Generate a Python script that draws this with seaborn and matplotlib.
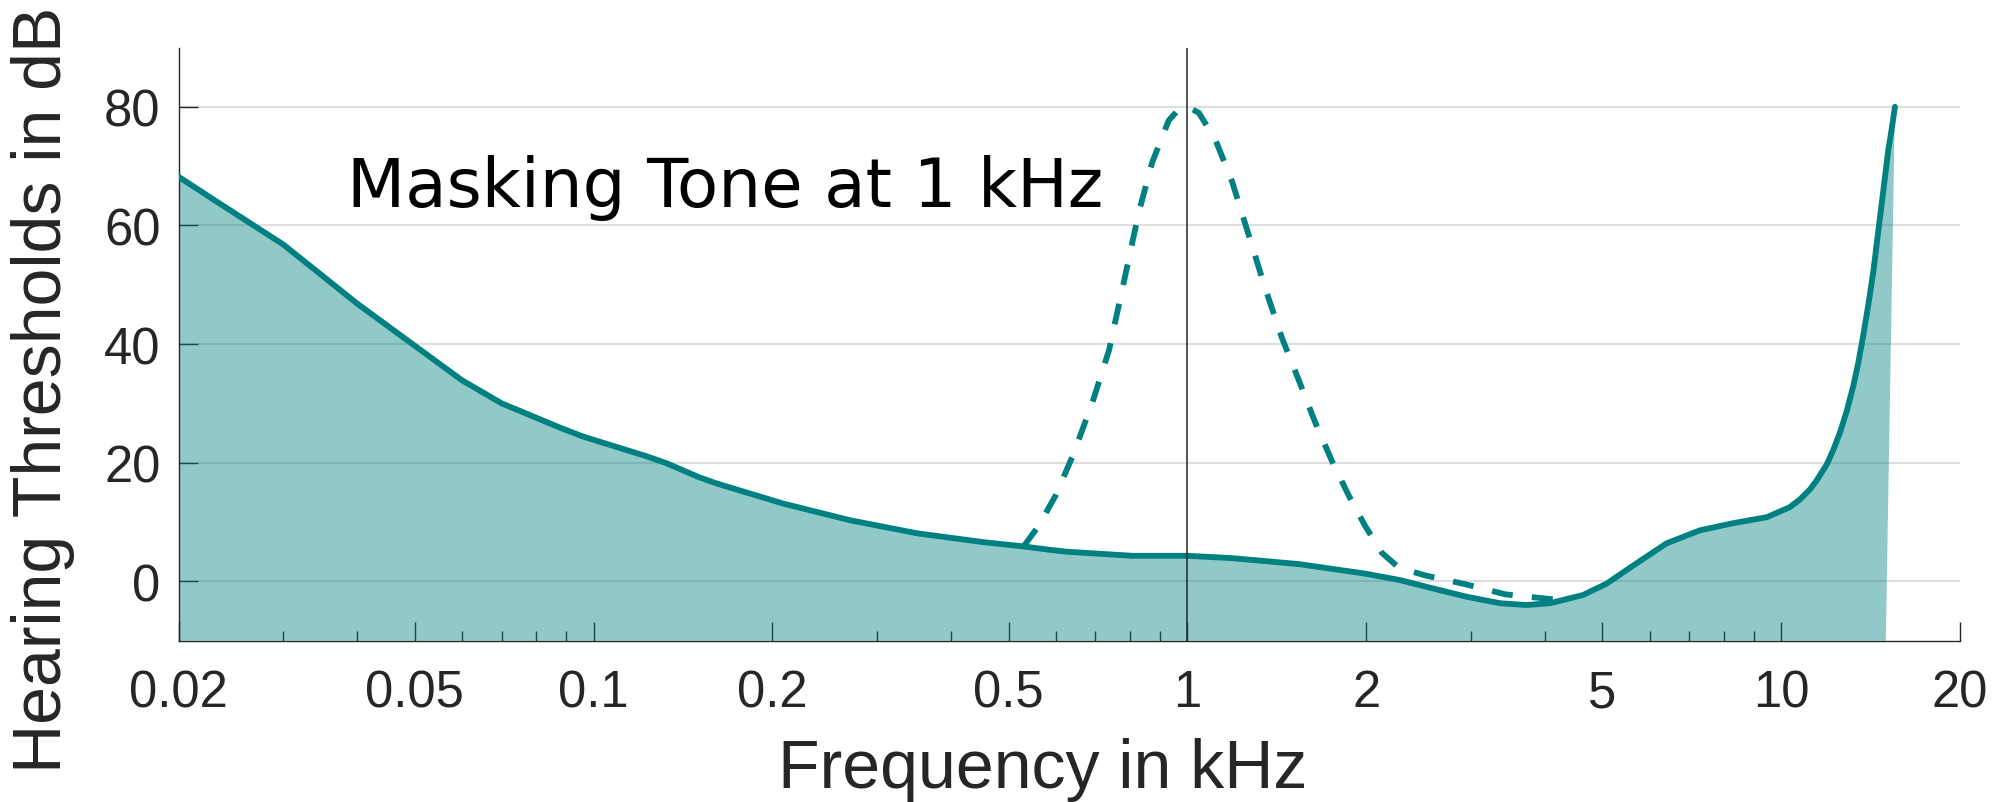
import matplotlib
matplotlib.use("Agg")
import matplotlib.pyplot as plt
import seaborn as sns
from matplotlib.ticker import FixedLocator, FixedFormatter, NullFormatter

# threshold in quiet (kHz, dB)
freq_quiet = [0.02, 0.0237, 0.030, 0.040, 0.050, 0.060, 0.070, 0.0883, 0.096,
              0.1226, 0.1327, 0.150, 0.161, 0.2086, 0.270, 0.350, 0.453, 0.527,
              0.587, 0.624, 0.807, 1.0, 1.189, 1.54, 1.99, 2.28, 2.59, 2.95,
              3.36, 3.72, 4.08, 4.64, 5.08, 5.64, 6.41, 7.30, 8.30, 9.45, 10.34,
              10.75, 11.18, 11.47, 11.93, 12.23, 12.56, 12.89, 13.22, 13.48,
              13.74, 14.01, 14.29, 14.51, 14.76, 14.95, 15.14, 15.35, 15.54]
db_quiet = [68.2, 63.4, 56.8, 46.8, 39.7, 33.9, 30.0, 25.8, 24.4,
            21.1, 19.9, 17.6, 16.5, 13.1, 10.3, 8.1, 6.6, 5.9,
            5.3, 5.0, 4.3, 4.3, 3.9, 2.9, 1.3, 0.2, -1.2, -2.6,
            -3.7, -4.0, -3.7, -2.3, -0.4, 2.7, 6.4, 8.6, 9.8, 10.8, 12.5,
            13.8, 15.5, 17.0, 19.7, 22.1, 25.1, 28.7, 32.9, 36.8,
            41.4, 46.5, 52.2, 57.6, 63.6, 68.1, 72.6, 76.3, 80.0]

# masking threshold around the 1 kHz tone
freq_mask = [0.53, 0.562, 0.60, 0.64, 0.691, 0.738, 0.787, 0.828, 0.872, 0.930,
             0.965, 1.0, 1.045, 1.114, 1.189, 1.268, 1.353, 1.443, 1.54, 1.641,
             1.751, 1.868, 1.99, 2.125, 2.27, 2.51, 2.94, 3.43, 4.0, 4.35]
db_mask = [5.9, 9.4, 14.5, 21.0, 30.0, 39.0, 51.9, 62.2, 70.6, 77.7,
           79.5, 80.0, 79.0, 74.5, 67.4, 58.4, 49.3, 41.0, 33.9, 26.8,
           20.3, 14.5, 9.4, 4.8, 2.3, 1.0, -0.5, -2.2, -2.9, -3.3]

# lower right corner of the shaded area
fill_edge_freq = 15.0
fill_floor = -10

xticks = [0.02, 0.05, 0.1, 0.2, 0.5, 1, 2, 5, 10, 20]
xtick_labels = ["0.02", "0.05", "0.1", "0.2", "0.5", "1", "2", "5", "10", "20"]
xminor = [0.03, 0.04, 0.06, 0.07, 0.08, 0.09, 0.3, 0.4, 0.6, 0.7, 0.8, 0.9,
          3, 4, 6, 7, 8, 9]
yticks = [0, 20, 40, 60, 80]

teal = "#008080"
ink = "#262626"

sns.set_theme(style="ticks")
plt.rcParams["font.family"] = ["Liberation Sans", "DejaVu Sans"]

fig = plt.figure(figsize=(20, 8.03), dpi=100)
ax = fig.add_axes([0.0893, 0.201, 0.8907, 0.7386])

ax.set_xscale("log")
ax.fill(freq_quiet + [fill_edge_freq, freq_quiet[0]],
        db_quiet + [fill_floor, fill_floor],
        color=teal, alpha=0.43, lw=0, zorder=1)
sns.lineplot(x=freq_quiet, y=db_quiet, ax=ax, color=teal, linewidth=4.2,
             estimator=None, sort=False, zorder=3)
sns.lineplot(x=freq_mask, y=db_mask, ax=ax, color=teal, linewidth=4.2,
             estimator=None, sort=False, linestyle=(0, (3.6, 3.3)), zorder=3)
ax.axvline(1, color=ink, lw=1.1, zorder=4)

ax.text(0.0385, 63.3, "Masking Tone at 1 kHz", fontsize=48.6,
        family="DejaVu Sans", color="black", ha="left", va="baseline")

ax.set_xlim(0.02, 20)
ax.set_ylim(-10, 90)
ax.xaxis.set_major_locator(FixedLocator(xticks))
ax.xaxis.set_major_formatter(FixedFormatter(xtick_labels))
ax.xaxis.set_minor_locator(FixedLocator(xminor))
ax.xaxis.set_minor_formatter(NullFormatter())
ax.set_yticks(yticks)
ax.set_yticklabels([str(v) for v in yticks])

ax.yaxis.grid(True, color="#dedede", lw=1.5)
ax.xaxis.grid(False)
ax.set_axisbelow(True)

ax.tick_params(axis="both", which="major", direction="in", length=13.5,
               width=1.0, color=ink, labelcolor=ink, labelsize=36.5)
ax.tick_params(axis="x", which="major", pad=20)
ax.tick_params(axis="y", which="major", pad=13)
ax.tick_params(axis="x", which="minor", direction="in", length=7,
               width=1.0, color=ink)
ax.tick_params(top=False, right=False)

sns.despine(ax=ax)
for side in ["left", "bottom"]:
    ax.spines[side].set_color(ink)
    ax.spines[side].set_linewidth(1.0)

ax.set_xlabel("Frequency in kHz", fontsize=49, color=ink, labelpad=14)
ax.xaxis.label.set_x(0.485)
ax.set_ylabel("Hearing Thresholds in dB", fontsize=49, color=ink)
ax.yaxis.set_label_coords(-0.058, 0.424)

fig.savefig("out.png", dpi=100)
